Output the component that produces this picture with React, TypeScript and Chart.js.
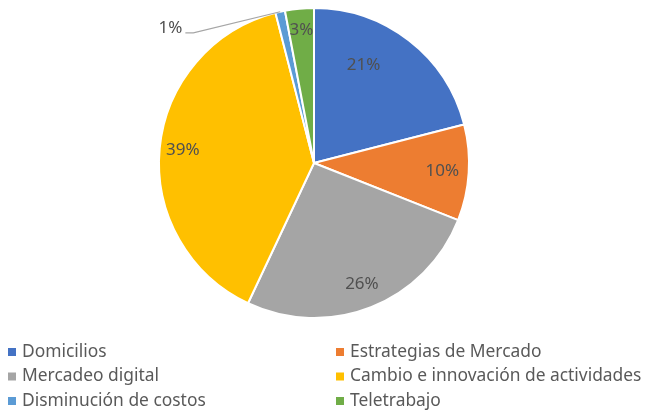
import React, { useEffect, useRef } from "react";
import { Chart, registerables } from "chart.js";

Chart.register(...registerables);

const categories = [
  "Domicilios",
  "Estrategias de Mercado",
  "Mercadeo digital",
  "Cambio e innovación de actividades",
  "Disminución de costos",
  "Teletrabajo",
];
const values = [21, 10, 26, 39, 1, 3];
const colors = ["#4472C4", "#ED7D31", "#A5A5A5", "#FFC000", "#5B9BD5", "#70AD47"];
// label placement style: [radius factor, angle shift in degrees]
const labelPlacement: [number, number][] = [
  [0.71, -11],
  [0.83, 0],
  [0.84, 0],
  [0.85, 0],
  [0, 0],
  [0.86, 0],
];

const FONT = "'Noto Sans', sans-serif";
const TEXT = "#595959";

const labelsPlugin = {
  id: "pctLabels",
  afterDatasetsDraw(chart: any) {
    const ctx = chart.ctx;
    const meta = chart.getDatasetMeta(0);
    const total = values.reduce((a, b) => a + b, 0);
    ctx.save();
    ctx.font = `17px ${FONT}`;
    ctx.fillStyle = "#505050";
    ctx.textBaseline = "middle";
    meta.data.forEach((arc: any, i: number) => {
      const pct = Math.round((values[i] / total) * 100) + "%";
      const mid = (arc.startAngle + arc.endAngle) / 2;
      if (i === 4) {
        // outside label with leader line
        const ex = arc.x + Math.cos(mid) * arc.outerRadius;
        const ey = arc.y + Math.sin(mid) * arc.outerRadius;
        const bx = arc.x - arc.outerRadius * 0.83;
        const by = arc.y - arc.outerRadius * 0.84;
        ctx.strokeStyle = "#A6A6A6";
        ctx.lineWidth = 1.2;
        ctx.beginPath();
        ctx.moveTo(ex, ey);
        ctx.lineTo(bx + 8, by);
        ctx.lineTo(bx, by);
        ctx.stroke();
        ctx.textAlign = "right";
        ctx.fillText(pct, bx - 3, by - 5);
        return;
      }
      const [rf, shift] = labelPlacement[i];
      const a = mid + (shift * Math.PI) / 180;
      const x = arc.x + Math.cos(a) * arc.outerRadius * rf;
      const y = arc.y + Math.sin(a) * arc.outerRadius * rf;
      ctx.textAlign = "center";
      ctx.fillText(pct, x, y);
    });
    ctx.restore();
  },
};

const legendPlugin = {
  id: "gridLegend",
  afterDraw(chart: any) {
    const ctx = chart.ctx;
    ctx.save();
    ctx.font = `17.4px ${FONT}`;
    ctx.textBaseline = "middle";
    ctx.textAlign = "left";
    categories.forEach((c, i) => {
      const col = i % 2;
      const row = Math.floor(i / 2);
      const x = col === 0 ? 8 : 336;
      const y = 352 + row * 24.5;
      ctx.fillStyle = colors[i];
      ctx.fillRect(x, y - 4, 8, 8);
      ctx.fillStyle = TEXT;
      ctx.fillText(c, x + 14, y);
    });
    ctx.restore();
  },
};

export default function App() {
  const ref = useRef<HTMLCanvasElement>(null);
  useEffect(() => {
    if (!ref.current) return;
    const chart = new Chart(ref.current, {
      type: "pie",
      data: {
        labels: categories,
        datasets: [
          {
            data: values,
            backgroundColor: colors,
            borderColor: "#ffffff",
            borderWidth: 2,
          },
        ],
      },
      options: {
        responsive: false,
        animation: false,
        layout: { padding: { top: 7, bottom: 92, left: 0, right: 17 } },
        plugins: {
          legend: { display: false },
          tooltip: { enabled: false },
        },
      },
      plugins: [labelsPlugin, legendPlugin],
    });
    return () => chart.destroy();
  }, []);
  return (
    <div style={{ position: "absolute", left: 0, top: 0, width: 645, height: 411, background: "#fff" }}>
      <canvas ref={ref} width={645} height={411} />
    </div>
  );
}
